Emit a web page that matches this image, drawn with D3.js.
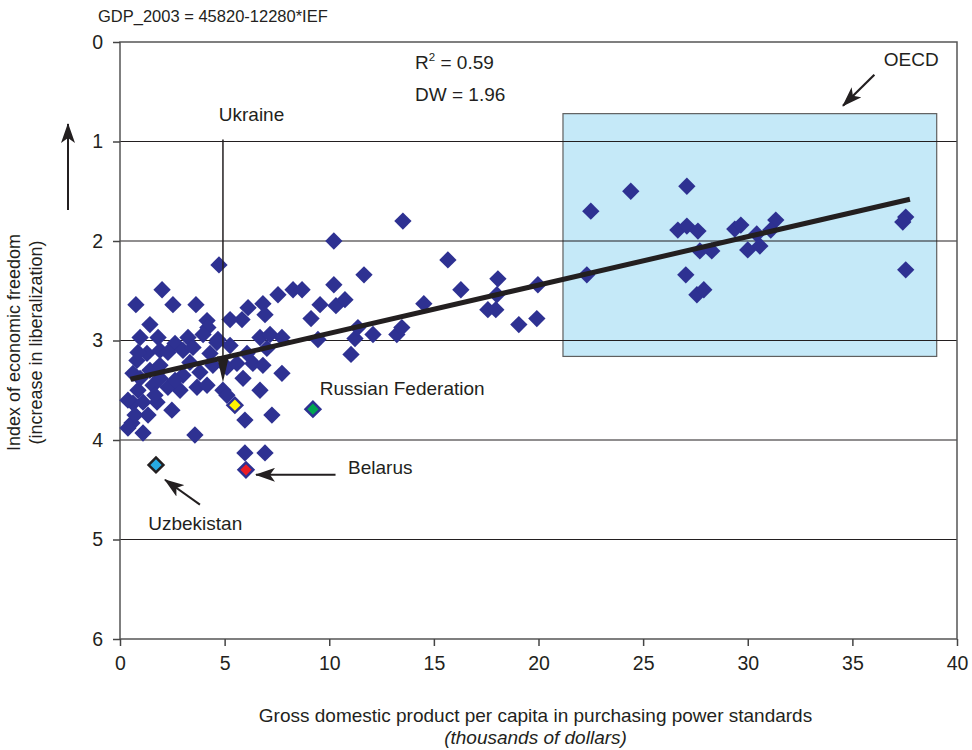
<!DOCTYPE html>
<html>
<head>
<meta charset="utf-8">
<script src="https://cdn.jsdelivr.net/npm/d3@7"></script>
<style>
  body { margin: 0; background: #fff; }
  text { font-family: "Liberation Sans", Arial, sans-serif; fill: #231f20; }
</style>
</head>
<body>
<div id="chart"></div>
<script>
// countries: gdp per capita (thousands, PPS) vs index of economic freedom
var gdp = [22.5, 24.41, 27.09, 26.66, 27.09, 27.62, 29.38, 29.67, 30.43, 31.34, 31.1, 30.58, 30.0, 27.71, 28.28, 22.31, 27.04, 27.57, 27.9, 37.55, 37.41, 37.55,
  13.52, 10.22, 15.67, 11.66, 10.22, 16.29, 18.06, 18.01, 19.97, 9.56, 10.32, 10.75, 9.13, 14.52, 17.58, 17.96, 19.06, 19.92, 9.46, 11.23, 11.37, 12.09, 13.23, 13.47, 11.04,
  4.73, 7.55, 8.27, 8.7, 6.83, 6.12, 5.83, 5.26, 6.93, 4.16, 4.2, 4.68, 6.69, 7.17, 7.74, 2.01, 0.76, 2.53, 3.63, 1.43, 0.96, 1.82, 2.63, 3.25, 3.97, 4.63,
  0.62, 0.81, 1.29, 1.91, 2.29, 3.01, 3.49, 4.3, 5.11, 5.59, 6.07, 7.02, 5.88, 6.69, 4.92, 5.11, 3.68, 2.87, 2.29, 1.58, 0.86, 0.62, 1.1, 1.77, 2.48, 0.57, 1.1, 3.58, 5.97, 7.26, 7.74, 6.35, 6.83, 5.97, 6.93,
  0.38, 0.96, 1.43, 1.91, 1.34, 0.72, 0.38, 3.01, 3.82, 4.44, 3.34, 1.91, 2.63, 0.86, 4.16, 5.26, 1.67];
var ief = [1.7, 1.5, 1.45, 1.89, 1.85, 1.9, 1.88, 1.84, 1.93, 1.79, 1.89, 2.05, 2.09, 2.1, 2.1, 2.34, 2.34, 2.54, 2.49, 1.76, 1.81, 2.29,
  1.8, 2.0, 2.19, 2.34, 2.44, 2.49, 2.38, 2.54, 2.44, 2.64, 2.65, 2.59, 2.78, 2.63, 2.69, 2.69, 2.84, 2.78, 2.99, 2.98, 2.87, 2.94, 2.94, 2.87, 3.14,
  2.24, 2.54, 2.49, 2.49, 2.63, 2.67, 2.79, 2.79, 2.74, 2.8, 2.87, 2.99, 2.97, 2.94, 2.97, 2.49, 2.64, 2.64, 2.64, 2.84, 2.97, 2.97, 3.03, 2.97, 2.94, 3.02,
  3.33, 3.2, 3.13, 3.1, 3.12, 3.1, 3.07, 3.13, 3.27, 3.23, 3.13, 3.08, 3.38, 3.5, 3.5, 3.55, 3.47, 3.5, 3.47, 3.45, 3.5, 3.63, 3.62, 3.62, 3.7, 3.83, 3.93, 3.95, 3.8, 3.75, 3.33, 3.23, 3.25, 4.13, 4.13,
  3.6, 3.38, 3.3, 3.25, 3.75, 3.75, 3.88, 3.35, 3.32, 3.25, 3.22, 3.38, 3.4, 3.12, 3.45, 3.05, 3.55];

// highlighted countries
var hlNames = ["Ukraine", "Russian Federation", "Belarus", "Uzbekistan"];
var hlGdp = [5.49, 9.22, 6.02, 1.72];
var hlIef = [3.65, 3.69, 4.3, 4.25];
var hlFill = ["#fff200", "#00a651", "#ed1c24", "#27aae1"];
var hlStroke = ["#2e3192", "#2e3192", "#2e3192", "#231f20"];

// fitted line ends
var fitGdp = [0.5, 37.75];
var fitIef = [3.39, 1.58];

// OECD region
var oecdGdp = [21.17, 39.03];
var oecdIef = [0.72, 3.16];

var xTicks = [0, 5, 10, 15, 20, 25, 30, 35, 40];
var yTicks = [0, 1, 2, 3, 4, 5, 6];

(function () {

  var margin = { top: 42, left: 120, right: 15, bottom: 111 },
      width = 972 - margin.left - margin.right,
      height = 750 - margin.top - margin.bottom;

  var svg = d3.select("#chart")
    .append("svg")
    .attr("width", 972)
    .attr("height", 750)
    .append("g")
    .attr("transform", "translate(" + margin.left + "," + margin.top + ")");

  var defs = svg.append("defs");
  defs.append("marker")
    .attr("id", "head")
    .attr("viewBox", "0 0 20 14")
    .attr("refX", 19)
    .attr("refY", 7)
    .attr("markerWidth", 20)
    .attr("markerHeight", 14)
    .attr("markerUnits", "userSpaceOnUse")
    .attr("orient", "auto")
    .append("path")
    .attr("d", "M0,0 L20,7 L0,14 L5,7 Z")
    .attr("fill", "#231f20");

  //scales
  var x = d3.scaleLinear().domain([0, 40]).range([0, width]);
  var y = d3.scaleLinear().domain([0, 6]).range([0, height]);

  //OECD box
  svg.append("rect")
    .attr("x", x(oecdGdp[0]))
    .attr("y", y(oecdIef[0]))
    .attr("width", x(oecdGdp[1]) - x(oecdGdp[0]))
    .attr("height", y(oecdIef[1]) - y(oecdIef[0]))
    .attr("fill", "#c5e9f8")
    .attr("stroke", "#5f5f5f")
    .attr("stroke-width", 1.2);

  //gridlines
  svg.selectAll(".grid")
    .data(yTicks.slice(1, -1))
    .enter().append("line")
    .attr("class", "grid")
    .attr("x1", 0)
    .attr("x2", width)
    .attr("y1", function (d) { return y(d); })
    .attr("y2", function (d) { return y(d); })
    .attr("stroke", "#231f20")
    .attr("stroke-width", 1.2);

  //frame
  svg.append("rect")
    .attr("width", width)
    .attr("height", height)
    .attr("fill", "none")
    .attr("stroke", "#555")
    .attr("stroke-width", 1.5);

  //axes
  var yAxis = d3.axisLeft(y).tickValues(yTicks).tickSize(7).tickPadding(10).tickFormat(d3.format("d"));
  var gy = svg.append("g").attr("class", "axis").call(yAxis);
  var xAxis = d3.axisBottom(x).tickValues(xTicks).tickSize(7).tickPadding(10).tickFormat(d3.format("d"));
  var gx = svg.append("g").attr("class", "axis")
    .attr("transform", "translate(0," + height + ")").call(xAxis);
  [gy, gx].forEach(function (g) {
    g.select(".domain").remove();
    g.selectAll(".tick line").attr("stroke", "#444").attr("stroke-width", 1.5);
    g.selectAll(".tick text").attr("font-size", 19.5).attr("fill", "#231f20")
      .style("font-family", "Liberation Sans, Arial, sans-serif");
  });

  //points
  var pts = gdp.map(function (g, i) { return { gdp: g, ief: ief[i] }; });
  var diamond = d3.symbol().type(d3.symbolSquare).size(150);
  svg.selectAll(".pt")
    .data(pts)
    .enter().append("path")
    .attr("class", "pt")
    .attr("d", diamond)
    .attr("transform", function (d) {
      return "translate(" + x(d.gdp) + "," + y(d.ief) + ") rotate(45)";
    })
    .attr("fill", "#2e3192");

  //fitted line
  svg.append("line")
    .attr("x1", x(fitGdp[0])).attr("y1", y(fitIef[0]))
    .attr("x2", x(fitGdp[1])).attr("y2", y(fitIef[1]))
    .attr("stroke", "#231f20")
    .attr("stroke-width", 5);

  //highlighted countries (Ukraine plotted in the cluster)
  var hl = hlNames.map(function (n, i) {
    return { name: n, gdp: hlGdp[i], ief: hlIef[i], fill: hlFill[i], stroke: hlStroke[i] };
  });
  svg.selectAll(".hl")
    .data(hl)
    .enter().append("path")
    .attr("class", "hl")
    .attr("d", d3.symbol().type(d3.symbolSquare).size(110))
    .attr("transform", function (d) {
      return "translate(" + x(d.gdp) + "," + y(d.ief) + ") rotate(45)";
    })
    .attr("fill", function (d) { return d.fill; })
    .attr("stroke", function (d) { return d.stroke; })
    .attr("stroke-width", 2.5);

  //annotations
  function arrow(x1, y1, x2, y2, w) {
    svg.append("line")
      .attr("x1", x1).attr("y1", y1).attr("x2", x2).attr("y2", y2)
      .attr("stroke", "#231f20")
      .attr("stroke-width", w || 2)
      .attr("marker-end", "url(#head)");
  }
  function label(t, lx, ly, size) {
    return svg.append("text").attr("x", lx).attr("y", ly)
      .attr("font-size", size || 19).text(t);
  }

  // Ukraine
  svg.append("line")
    .attr("x1", x(4.92)).attr("y1", y(0.98))
    .attr("x2", x(4.92)).attr("y2", y(3.2))
    .attr("stroke", "#231f20").attr("stroke-width", 1.5);
  svg.append("path")
    .attr("d", "M" + (x(4.92) - 6) + "," + y(3.16) + " L" + (x(4.92) + 6) + "," + y(3.16) +
      " L" + x(4.92) + "," + y(3.42) + " Z")
    .attr("fill", "#231f20");
  label("Ukraine", x(4.72), y(0.79));

  // Russian Federation
  label("Russian Federation", x(9.55), y(3.55));

  // Belarus
  arrow(x(10.3), y(4.35), x(6.5), y(4.35), 2);
  label("Belarus", x(10.9), y(4.34));

  // Uzbekistan
  arrow(x(3.82), y(4.65), x(2.15), y(4.4), 2);
  label("Uzbekistan", x(1.35), y(4.9));

  // OECD
  arrow(x(36.05), y(0.33), x(34.55), y(0.64), 2.2);
  label("OECD", x(36.5), y(0.24));

  // statistics
  var r2 = label("R", x(14.1), y(0.27));
  r2.append("tspan").attr("font-size", 11.5).attr("dy", -8).text("2");
  r2.append("tspan").attr("dy", 8).text(" = 0.59");
  label("DW = 1.96", x(14.1), y(0.59));

  //equation
  svg.append("text")
    .attr("x", -22).attr("y", -20)
    .attr("font-size", 16.5)
    .text("GDP_2003 = 45820-12280*IEF");

  //axis titles
  svg.append("text")
    .attr("x", width / 2 - 3).attr("y", height + 83)
    .attr("text-anchor", "middle").attr("font-size", 19)
    .text("Gross domestic product per capita in purchasing power standards");
  svg.append("text")
    .attr("x", width / 2 - 3).attr("y", height + 105)
    .attr("text-anchor", "middle").attr("font-size", 19)
    .attr("font-style", "italic")
    .text("(thousands of dollars)");

  var yl = svg.append("g")
    .attr("transform", "translate(-100," + (height / 2 + 2) + ") rotate(-90)");
  yl.append("text").attr("x", 0).attr("y", 0)
    .attr("text-anchor", "middle").attr("font-size", 18)
    .text("Index of economic freedom");
  yl.append("text").attr("x", 0).attr("y", 22)
    .attr("text-anchor", "middle").attr("font-size", 18)
    .text("(increase in liberalization)");

  svg.append("line")
    .attr("x1", -52).attr("y1", 168).attr("x2", -52).attr("y2", 82)
    .attr("stroke", "#231f20").attr("stroke-width", 2)
    .attr("marker-end", "url(#head)");

})();
</script>
</body>
</html>
